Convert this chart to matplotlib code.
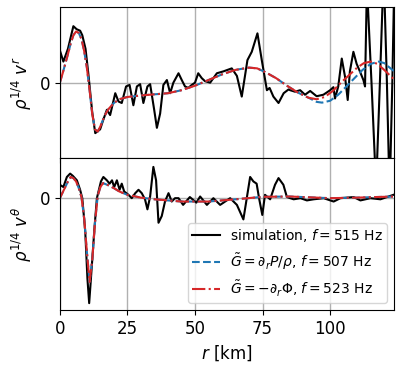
import matplotlib
matplotlib.use("Agg")
import matplotlib.pyplot as plt

# top panel, radial velocity (arbitrary units)
r_sim_top = [0, 1.3, 3, 5.0, 6.2, 7.5, 8.3, 9.5, 10.6, 12, 13.1, 14.9, 16, 17.4, 18.6, 20.5, 21.7,
             22.9, 24.5, 25.8, 27.2, 28.5, 29.7, 30.9, 32.4, 33.4, 34.9, 35.9, 37.1, 38.3, 39.6,
             40.8, 42, 43.9, 45.1, 46.3, 47.5, 48.8, 50, 51.2, 52.5, 53.7, 55.6, 58.1, 60.5, 63.6,
             65.5, 67.3, 69.4, 71, 73.1, 74.7, 76.6, 77.6,
             79, 80.9, 82.8, 84.6, 85.2, 87, 88.9, 90.7, 92.6, 95, 97.5, 100, 101.2, 101.8, 103,
             104.3, 105.5, 106.5, 107.3, 108.6, 109.8, 111, 112.3, 112.9, 113.6, 115.3, 117.0,
             118.4, 119.8, 121, 122, 123, 123.8]
v_sim_top = [0.43, 0.28, 0.45, 0.75, 0.71, 0.69, 0.63, 0.45, 0.1, -0.4, -0.67, -0.62, -0.5, -0.36,
             -0.43, -0.14, -0.25, -0.27, -0.05, -0.03, -0.3, -0.05, -0.02, -0.27, -0.05, -0.02,
             -0.36, -0.6, -0.41, -0.03, 0.035, -0.14, 0.0, 0.125, 0.035, -0.05, -0.07, -0.03, 0.0,
             0.125, 0.06, 0.02, 0.0, 0.125, 0.15, 0.19, 0.09, -0.185, 0.3, 0.41, 0.655, 0.3, -0.1,
             -0.07, -0.185, -0.27, -0.14, -0.09,
             -0.1, -0.12, -0.1, -0.16, -0.11, -0.18, -0.16, -0.1, -0.06, -0.21, -0.05, 0.32, 0.08,
             -0.23, 0.15, 0.41, 0.25, 0.15, 0.035, -0.05, 1.3, 0.0, -1.4, 0.0, 1.5, 0.0, -1.5,
             0.0, 1.5]

r_mod_top = [0, 1, 2, 3, 4, 5, 6, 7, 8, 9, 10, 11, 12, 13, 14, 15, 16, 17, 18, 20, 22, 25, 30,
             35, 40, 45, 50, 55, 60, 65, 70, 73, 76, 80, 84, 88, 92]
v_mod_top = [0.0, 0.12, 0.25, 0.38, 0.52, 0.63, 0.68, 0.66, 0.58, 0.42, 0.2, -0.1, -0.42, -0.62,
             -0.65, -0.58, -0.49, -0.41, -0.35, -0.27, -0.22, -0.19, -0.17, -0.155, -0.14, -0.1,
             -0.04, 0.035, 0.11, 0.17, 0.2, 0.19, 0.14, 0.06, -0.04, -0.13, -0.2]

r_tail_blue = [95, 97, 100, 103, 106, 109, 112, 115, 118, 120, 122, 123.7]
v_tail_blue = [-0.255, -0.265, -0.24, -0.16, -0.05, 0.06, 0.17, 0.25, 0.28, 0.26, 0.2, 0.15]
r_tail_red = [95, 98, 101, 104, 107, 110, 112.5, 115, 117.5, 120, 122, 123.7]
v_tail_red = [-0.22, -0.19, -0.11, 0.0, 0.1, 0.2, 0.26, 0.28, 0.25, 0.17, 0.1, 0.04]

# bottom panel, polar velocity
r_sim_bot = [0, 1.3, 2.6, 3.8, 4.8, 6.3, 7.5, 8.3, 9.4, 10.2, 10.85, 11.5, 12.8, 13.7, 15.2, 16.1,
             17.4, 18.4, 19.3, 20.1, 21.1, 22.1, 22.9, 23.8, 25.4, 26.6, 27.9, 29.1, 30.3, 31.5,
             32.4, 33.4, 34.6, 35.6, 36.5, 37.7, 38.9, 40.2, 41.4, 42.6, 43.9, 45.6, 48.1, 50.5,
             51.9, 54.4, 56.8, 59.3, 63,
             65.5, 67.9, 70.4, 71.6, 72.8, 73.7, 74.9, 75.9, 77.8, 79.6, 80.9, 82.7, 84, 86.5, 89,
             91.4, 93.9, 97.6, 101.3, 103.8, 108.7, 111.2, 114.9, 118.6, 121, 123.4]
v_sim_bot = [0.12, 0.1, 0.19, 0.22, 0.2, 0.16, 0.075, 0.0, -0.3, -0.72, -0.94, -0.72, -0.27,
             0.0, 0.15, 0.19, 0.16, 0.13, 0.16, 0.1, 0.16, 0.075, 0.13, 0.06, 0.03, 0.0, 0.045,
             0.075, 0.045, -0.01, -0.1, 0.015, 0.28, 0.16, -0.22, -0.16, -0.03, 0.045, -0.03, 0.0,
             0.0, -0.06, 0.01, -0.04,
             0.015, -0.06, 0.0, -0.06, 0.0, -0.06, -0.19, 0.19, 0.15, 0.13, 0.0, -0.15, 0.03,
             -0.01, 0.12, 0.18, 0.12, 0.01, -0.01, 0.0, -0.02, -0.01, 0.0, -0.03, 0.0, 0.01,
             -0.02, 0.0, -0.01, 0.01, 0.03]

r_mod_bot = [0, 1, 2, 3, 4, 5, 6, 7, 8, 9, 10, 11, 12, 13, 14, 15, 16, 18, 20, 22, 25, 30, 35,
             40, 45, 55, 65, 75, 85, 100, 110, 123.7]
v_mod_bot = [0.0, 0.05, 0.1, 0.15, 0.19, 0.18, 0.15, 0.09, 0.01, -0.18, -0.48, -0.75, -0.55,
             -0.22, 0.02, 0.1, 0.135, 0.115, 0.09, 0.06, 0.03, 0.005, -0.01, -0.02, -0.03, -0.03,
             -0.01, 0.012, 0.015, 0.0, 0.005, 0.015]

labels = ["simulation, $f = 515$ Hz",
          r"$\tilde{G} = \partial_r P/\rho$, $f = 507$ Hz",
          r"$\tilde{G} = -\partial_r \Phi$, $f = 523$ Hz"]

blue = "#1f77b4"
red = "#d62728"

fig = plt.figure(figsize=(3.99, 3.68), dpi=100)
ax1 = fig.add_axes([0.150, 0.5707, 0.838, 0.4093])
ax2 = fig.add_axes([0.150, 0.158, 0.838, 0.4127], sharex=ax1)

ax1.plot(r_sim_top, v_sim_top, color="k", lw=1.5)
ax1.plot(r_mod_top + r_tail_blue, v_mod_top + v_tail_blue, color=blue, ls="--", lw=1.5)
ax1.plot(r_mod_top + r_tail_red, v_mod_top + v_tail_red, color=red, ls="-.", lw=1.5)

ax2.plot(r_sim_bot, v_sim_bot, color="k", lw=1.5, label=labels[0])
ax2.plot(r_mod_bot, v_mod_bot, color=blue, ls="--", lw=1.5, label=labels[1])
ax2.plot(r_mod_bot, v_mod_bot, color=red, ls="-.", lw=1.5, label=labels[2])

ax1.set_xlim(0, 123.7)
ax1.set_ylim(-1, 1)
ax2.set_ylim(-1.0, 0.36)
for ax in (ax1, ax2):
    ax.set_yticks([0])
    ax.set_xticks([0, 25, 50, 75, 100])
    ax.grid(True, color="#b0b0b0", lw=1)
    ax.tick_params(labelsize=12)
plt.setp(ax1.get_xticklabels(), visible=False)

ax1.set_ylabel(r"$\rho^{1/4}\ v^r$", fontsize=12)
ax2.set_ylabel(r"$\rho^{1/4}\ v^\theta$", fontsize=12)
ax2.set_xlabel(r"$r$ [km]", fontsize=12)
ax2.legend(loc="lower right", fontsize=10, borderpad=0.3, handletextpad=0.7)

fig.savefig("out.png", dpi=100)
